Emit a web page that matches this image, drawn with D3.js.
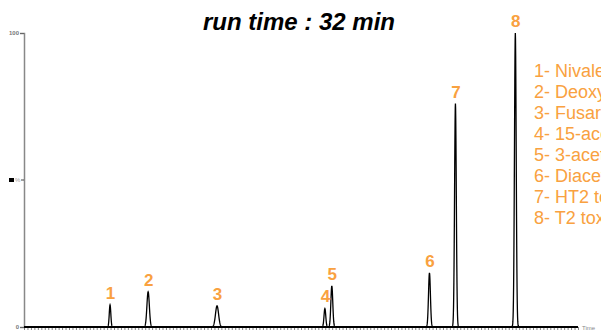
<!DOCTYPE html>
<html><head><meta charset="utf-8">
<script src="https://cdn.jsdelivr.net/npm/d3@7"></script>
<style>
html,body{margin:0;padding:0;background:#fff;overflow:hidden}
svg{display:block;font-family:"Liberation Sans",Arial,sans-serif}
</style></head>
<body>
<svg id="c" width="601" height="330"></svg>
<script>
// Data
const peakLabels = ["1","2","3","4","5","6","7","8"];
const retentionTimes = [4.97, 7.17, 11.15, 17.38, 17.78, 23.42, 24.92, 28.38]; // min
const peakHeights = [7.5, 12, 7.2, 6.3, 14, 18.4, 76, 100]; // % relative abundance
const peakWidths = [0.045, 0.07, 0.09, 0.05, 0.055, 0.055, 0.05, 0.05]; // sigma, min
const compounds = ["1- Nivalenol","2- Deoxynivalenol","3- Fusarenon-X","4- 15-acetyl-DON","5- 3-acetyl-DON","6- Diacetoxyscirpenol","7- HT2 toxin","8- T2 toxin"];
const yTicks = [0, 100];
const title = "run time : 32 min";
const runTime = 32;

const svg = d3.select("#c");
const x = d3.scaleLinear().domain([0, runTime]).range([24, 578]);
const y = d3.scaleLinear().domain([0, 100]).range([327, 33]);
const orange = "#f9a140";

// trace sampled across the run
const trace = d3.range(0, runTime + 0.0001, 0.01).map(t => {
  let v = 0;
  retentionTimes.forEach((rt, i) => {
    const s = peakWidths[i];
    v += peakHeights[i] * Math.exp(-0.5 * ((t - rt) / s) ** 2);
  });
  return [t, v];
});

// x axis minor ticks
svg.append("g").attr("transform", "translate(0,327)")
  .call(d3.axisBottom(x).tickValues(d3.range(0, runTime + 0.001, 0.2)).tickSize(3).tickFormat(""))
  .call(g => g.select(".domain").remove())
  .call(g => g.selectAll("line").attr("stroke", "#666").attr("stroke-width", 0.8));

// y axis
svg.append("g").attr("transform", "translate(24,0)")
  .call(d3.axisLeft(y).tickValues(yTicks).tickSize(4).tickPadding(1).tickFormat(d3.format("d")))
  .call(g => g.select(".domain").attr("stroke", "#888").attr("stroke-width", 1.5))
  .call(g => g.selectAll("line").attr("stroke", "#666"))
  .call(g => g.selectAll("text").attr("fill", "#777").attr("font-size", 6).attr("font-weight", "bold"));

// mid y label
svg.append("rect").attr("x", 9).attr("y", y(50) - 2).attr("width", 5).attr("height", 4).attr("fill", "#000");
svg.append("text").attr("x", 15).attr("y", y(50) + 2).attr("font-size", 6).attr("fill", "#999").text("%");
svg.append("line").attr("x1", 21).attr("x2", 24).attr("y1", y(50)).attr("y2", y(50)).attr("stroke", "#444");

// baseline
svg.append("line").attr("x1", 24).attr("x2", 578).attr("y1", 327).attr("y2", 327)
  .attr("stroke", "#000").attr("stroke-width", 2);
svg.append("text").attr("x", 582).attr("y", 330).attr("font-size", 6).attr("fill", "#888").text("Time");

// trace
svg.append("path").datum(trace)
  .attr("fill", "none").attr("stroke", "#000").attr("stroke-width", 1.3)
  .attr("d", d3.line().x(d => x(d[0])).y(d => y(d[1])));

// peak labels
svg.selectAll(".pl").data(peakLabels).join("text")
  .attr("x", (d, i) => x(retentionTimes[i]) + 0.5)
  .attr("y", (d, i) => y(peakHeights[i]) - 6)
  .attr("text-anchor", "middle").attr("font-size", 17).attr("font-weight", "bold")
  .attr("fill", orange).text(d => d);

// title
svg.append("text").attr("x", 299).attr("y", 30).attr("text-anchor", "middle")
  .attr("font-size", 24).attr("font-weight", "bold").attr("font-style", "italic").attr("fill", "#000")
  .text(title);

// legend
svg.selectAll(".lg").data(compounds).join("text")
  .attr("x", 534).attr("y", (d, i) => 77 + i * 21)
  .attr("font-size", 18).attr("fill", orange).text(d => d);
</script>
</body></html>
